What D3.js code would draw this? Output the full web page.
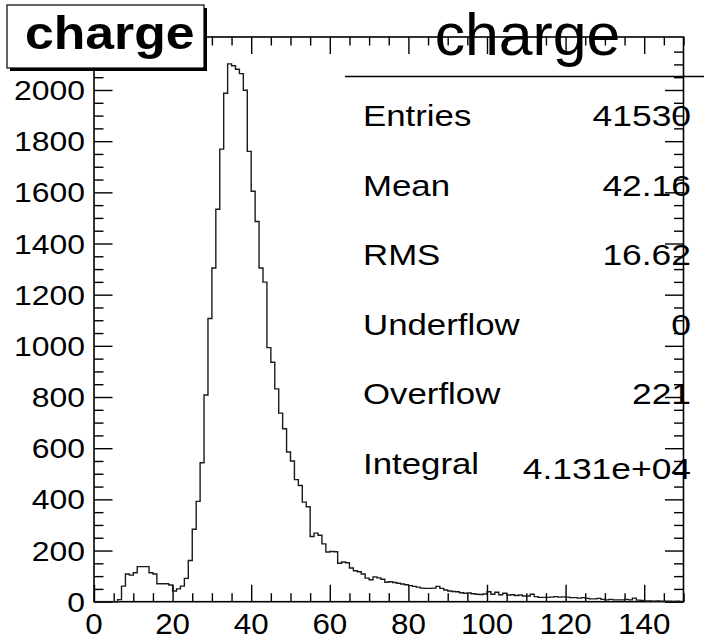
<!DOCTYPE html>
<html>
<head>
<meta charset="utf-8">
<script src="https://cdn.jsdelivr.net/npm/d3@7"></script>
<style>
  html, body { margin: 0; padding: 0; background: #fff; }
  svg { display: block; }
  text { font-family: "Liberation Sans", Arial, Helvetica, sans-serif; fill: #000; }
</style>
</head>
<body>
<svg id="chart" width="704" height="641"></svg>
<script>
// Histogram "charge": 150 bins of width 1 over [0, 150)
const xMin = 0, xMax = 150;
const counts = [
  0, 0, 0, 0, 0, 0, 8, 61, 108, 104,
  113, 137, 137, 137, 113, 108, 70, 70, 70, 65,
  42, 50, 61, 91, 161, 283, 392, 543, 808, 1107,
  1304, 1534, 1769, 1987, 2102, 2095, 2081, 2064, 1999, 1760,
  1604, 1486, 1304, 1249, 993, 936, 832, 737, 676, 585,
  550, 477, 454, 389, 371, 255, 268, 260, 226, 194,
  196, 195, 150, 155, 152, 132, 121, 117, 108, 92,
  86, 97, 93, 88, 76, 78, 75, 72, 69, 66,
  63, 60, 57, 53, 52, 52, 53, 60, 52, 46,
  42, 40, 39, 35, 33, 34, 31, 29, 28, 30,
  39, 29, 37, 27, 33, 26, 27, 24, 26, 22,
  22, 29, 20, 17, 17, 17, 18, 20, 18, 19,
  18, 16, 16, 14, 16, 13, 11, 11, 13, 9,
  7, 9, 7, 7, 7, 9, 7, 14, 6, 5,
  3, 3, 2, 3, 2, 2, 2, 1, 2, 1
];
const xTickLabels = ["0", "20", "40", "60", "80", "100", "120", "140"];
const yTickLabels = ["0", "200", "400", "600", "800", "1000", "1200", "1400", "1600", "1800", "2000"];
const statNames  = ["Entries", "Mean", "RMS", "Underflow", "Overflow", "Integral"];
const statValues = ["41530", "42.16", "16.62", "0", "221", "4.131e+04"];
const histTitle = "charge";

const svg = d3.select("#chart");
const frame = { left: 94, right: 683.5, top: 37, bottom: 601.7 };
const yMax = 1.05 * d3.max(counts);

const x = d3.scaleLinear().domain([xMin, xMax]).range([frame.left, frame.right]);
const y = d3.scaleLinear().domain([0, yMax]).range([frame.bottom, frame.top]);

// text drawn with a horizontal stretch about its anchor point
function label(parent, px, py, str, o) {
  const g = parent.append("g")
    .attr("transform", `translate(${px},${py}) scale(${o.sx || 1},1)`);
  return g.append("text")
    .attr("text-anchor", o.anchor || "start")
    .attr("font-size", o.size)
    .attr("font-weight", o.weight || "normal")
    .text(str);
}

// frame
svg.append("rect")
  .attr("x", frame.left).attr("y", frame.top)
  .attr("width", frame.right - frame.left).attr("height", frame.bottom - frame.top)
  .attr("fill", "none").attr("stroke", "#000").attr("stroke-width", 1.6);

// tick marks on all four sides, pointing inward
const xMajor = xTickLabels.map(Number);
const xMinor = d3.range(xMin, xMax + 0.01, 5).filter(v => v % 20 !== 0);
const yMajor = yTickLabels.map(Number);
const yMinor = d3.range(0, yMax, 50).filter(v => v % 200 !== 0);

function tickGroup(axisGen, tx, ty) {
  const g = svg.append("g").attr("transform", `translate(${tx},${ty})`).call(axisGen);
  g.select(".domain").remove();
  g.selectAll("text").remove();
  g.selectAll("line").attr("stroke", "#000").attr("stroke-width", 1.4);
  return g;
}
tickGroup(d3.axisBottom(x).tickValues(xMajor).tickSize(-17).tickFormat(""), 0, frame.bottom);
tickGroup(d3.axisBottom(x).tickValues(xMinor).tickSize(-8.5).tickFormat(""), 0, frame.bottom);
tickGroup(d3.axisTop(x).tickValues(xMajor).tickSize(-17).tickFormat(""), 0, frame.top);
tickGroup(d3.axisTop(x).tickValues(xMinor).tickSize(-8.5).tickFormat(""), 0, frame.top);
tickGroup(d3.axisLeft(y).tickValues(yMajor).tickSize(-18.5).tickFormat(""), frame.left, 0);
tickGroup(d3.axisLeft(y).tickValues(yMinor).tickSize(-9.5).tickFormat(""), frame.left, 0);
tickGroup(d3.axisRight(y).tickValues(yMajor).tickSize(-18.5).tickFormat(""), frame.right, 0);
tickGroup(d3.axisRight(y).tickValues(yMinor).tickSize(-9.5).tickFormat(""), frame.right, 0);

// histogram outline
const steps = counts.map((c, i) => [xMin + i, c]);
steps.push([xMax, counts[counts.length - 1]]);
svg.append("path")
  .attr("d", d3.line().x(d => x(d[0])).y(d => y(d[1])).curve(d3.curveStepAfter)(steps))
  .attr("fill", "none").attr("stroke", "#1a1a1a").attr("stroke-width", 1.4);

// axis labels
const labels = svg.append("g");
xTickLabels.forEach(t => label(labels, x(+t), 634, t, { size: 29, sx: 1.08, anchor: "middle" }));
yTickLabels.forEach(t => label(labels, 85, y(+t) + 10, t, { size: 28.5, sx: 1.12, anchor: "end" }));

// title box with drop shadow
svg.append("rect").attr("x", 10).attr("y", 8).attr("width", 197).attr("height", 63).attr("fill", "#000");
svg.append("rect").attr("x", 7).attr("y", 5).attr("width", 197).attr("height", 63)
  .attr("fill", "#fff").attr("stroke", "#000").attr("stroke-width", 1.2);
label(svg, 25, 49, histTitle, { size: 47, sx: 1.1, weight: "bold" });

// statistics box
svg.append("line").attr("x1", 345).attr("x2", 704).attr("y1", 76.5).attr("y2", 76.5)
  .attr("stroke", "#000").attr("stroke-width", 1.3);
label(svg, 527.5, 55, histTitle, { size: 59, sx: 1.03, anchor: "middle" });

const rowY = d3.scaleLinear().domain([0, statNames.length - 1]).range([126, 474]);
statNames.forEach((n, i) => {
  label(svg, 363, rowY(i), n, { size: 29.5, sx: 1.18 });
  label(svg, 691, rowY(i) + (i === statNames.length - 1 ? 5 : 0), statValues[i],
        { size: 29.5, sx: 1.2, anchor: "end" });
});
</script>
</body>
</html>
